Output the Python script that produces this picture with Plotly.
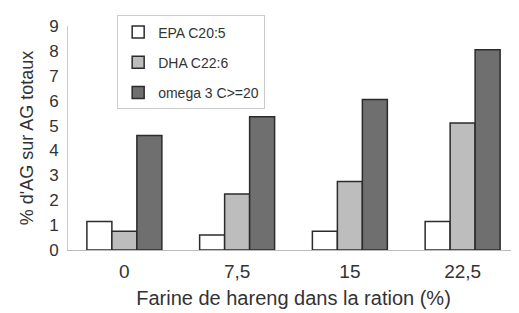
import plotly.graph_objects as go

categories = ["0", "7,5", "15", "22,5"]
epa = [1.15, 0.6, 0.75, 1.15]
dha = [0.75, 2.25, 2.75, 5.1]
omega = [4.6, 5.35, 6.05, 8.05]
series_names = ["EPA C20:5", "DHA C22:6", "omega 3 C>=20"]
y_ticks = list(range(0, 10))

font_family = "Liberation Sans, Arial, sans-serif"
fills = ["#ffffff", "#bdbdbd", "#6f6f6f"]

fig = go.Figure()
for i, (name, vals) in enumerate(zip(series_names, [epa, dha, omega])):
    fig.add_trace(go.Bar(
        x=categories, y=vals, name=name, legendgroup=f"g{i}",
        marker=dict(color=fills[i], line=dict(color="#2b2b2b", width=1.5)),
    ))

# page body has an 8px margin, so the figure is offset by 8px
fig.update_layout(
    width=511, height=305,
    margin=dict(l=60, r=0, t=18, b=63),
    paper_bgcolor="white", plot_bgcolor="white",
    barmode="group", bargap=0.335, bargroupgap=0,
    font=dict(family=font_family, color="#333333"),
    showlegend=True,
    legend=dict(
        x=0.109, y=1.047, xanchor="left", yanchor="top",
        bgcolor="white", bordercolor="#cccccc", borderwidth=1,
        font=dict(size=14, color="#333333"),
        traceorder="grouped", tracegroupgap=9,
        itemwidth=30, entrywidth=180, entrywidthmode="pixels",
    ),
    xaxis=dict(
        title=dict(text="Farine de hareng dans la ration (%)", font=dict(size=20), standoff=10),
        tickfont=dict(size=19), ticklabelstandoff=4,
        showline=True, linecolor="#bbbbbb", linewidth=1,
        showgrid=False, ticks="", automargin=False,
    ),
    yaxis=dict(
        title=dict(text="% d'AG sur AG totaux", font=dict(size=18), standoff=10),
        range=[0, 9], tickvals=y_ticks, tickfont=dict(size=17), ticklabelstandoff=5,
        showline=True, linecolor="#cccccc", linewidth=1, showgrid=False, ticks="",
        zeroline=False, automargin=False,
    ),
)

fig.write_html("out.html")
